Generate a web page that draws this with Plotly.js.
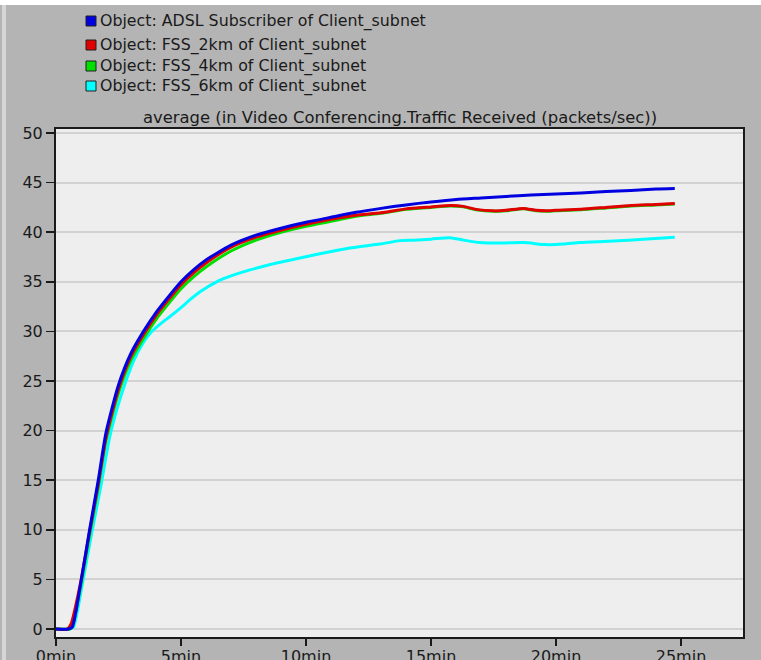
<!DOCTYPE html>
<html>
<head>
<meta charset="utf-8">
<script src="https://cdn.plot.ly/plotly-3.0.1.min.js"></script>
<style>
html,body{margin:0;padding:0;background:#b4b4b4;}
#chart{width:761px;height:660px;}
</style>
</head>
<body>
<div id="chart"></div>
<script>
// ---- data (time in minutes, traffic in packets/sec) ----
const seriesNames = [
  "Object: ADSL Subscriber of Client_subnet",
  "Object: FSS_2km of Client_subnet",
  "Object: FSS_4km of Client_subnet",
  "Object: FSS_6km of Client_subnet"
];
const seriesColors = ["#0000e0", "#e00000", "#00e000", "#00ffff"];

const adslT = [0,0.5,0.65,1.0,1.33,1.69,2.0,2.5,3.0,3.5,4.0,4.5,5.0,5.5,6.0,7,8,9,10,11,12,13,14,15,16,17,18,19,20,21,22,23,24,24.75];
const adslV = [0,0,0.2,4.8,9.8,15,19.8,24.6,27.8,30.0,31.9,33.5,35.0,36.2,37.2,38.7,39.7,40.4,41.0,41.5,42.0,42.4,42.75,43.05,43.3,43.45,43.6,43.75,43.85,43.95,44.1,44.2,44.35,44.4];

const fss2T = [0,0.45,0.6,1.0,1.33,1.69,2.0,2.5,3.0,3.5,4,4.5,5,5.5,6,7,8,9,10,11,12,13,14,15,15.8,16.3,16.8,17.5,18,18.7,19.2,19.6,20,21,22,23,24,24.75];
const fss2V = [0,0,0.5,4.9,9.6,14.6,19.3,24.2,27.5,29.7,31.6,33.2,34.7,35.9,36.9,38.5,39.5,40.2,40.8,41.3,41.7,41.95,42.35,42.55,42.7,42.6,42.3,42.15,42.2,42.4,42.2,42.15,42.2,42.3,42.5,42.7,42.8,42.9];

const fss4T = [0,0.55,0.65,1.0,1.33,1.69,2.0,2.5,3.0,3.5,4,4.5,5,5.5,6,7,8,9,10,11,12,13,14,15,15.8,16.3,16.8,17.5,18,18.7,19.2,19.6,20,21,22,23,24,24.75];
const fss4V = [0,0,0.2,4.5,9.3,14.3,19.0,23.8,27.1,29.3,31.2,32.8,34.3,35.5,36.5,38.1,39.2,40.0,40.6,41.1,41.6,41.9,42.3,42.5,42.65,42.55,42.25,42.1,42.15,42.35,42.15,42.1,42.15,42.25,42.45,42.65,42.75,42.85];

const fss6T = [0,0.55,0.7,1.05,1.4,1.8,2.16,2.6,3.1,3.5,3.76,4.2,4.56,5,5.36,5.76,6.5,7,7.76,8.5,9.76,10.5,11.76,12.96,13.76,14.3,15,15.76,16.3,16.96,17.5,18.7,19.6,20.3,20.96,22.3,23.5,24.75];
const fss6V = [0,0,0.2,4.5,9.3,14.5,19.5,23.5,27.0,28.9,29.8,30.8,31.5,32.4,33.2,34.0,35.1,35.6,36.2,36.7,37.4,37.8,38.4,38.8,39.15,39.2,39.3,39.45,39.2,38.95,38.9,38.95,38.75,38.8,38.95,39.1,39.3,39.5];

const xTickVals = [0,5,10,15,20,25];
const xTickText = ["0min","5min","10min","15min","20min","25min"];
const yTickVals = [0,5,10,15,20,25,30,35,40,45,50];
const chartTitle = "average (in Video Conferencing.Traffic Received (packets/sec))";

// ---- traces (drawn cyan, green, red, blue so blue is on top) ----
const allT = [adslT, fss2T, fss4T, fss6T];
const allV = [adslV, fss2V, fss4V, fss6V];
const order = [3,2,1,0];
const traces = order.map(i => ({
  type: "scatter", mode: "lines",
  x: allT[i], y: allV[i], name: seriesNames[i],
  line: {color: seriesColors[i], width: 3, shape: "spline", smoothing: 0.6},
  showlegend: false, hoverinfo: "skip"
}));

// ---- pixel helpers for legend placement (plot area: x 56..743, y 129..637) ----
const L = 56, R = 743, T = 129, B = 637;
const px = x => (x - L) / (R - L);
const py = y => (B - y) / (B - T);

const legFont = {family: "DejaVu Sans, Verdana, sans-serif", size: 15.8, color: "#1a1a1a"};
const titleFont = {family: "DejaVu Sans, Verdana, sans-serif", size: 16.4, color: "#1a1a1a"};
const legendRows = [21, 45, 66, 86];
const shapes = [];
const annotations = [];
seriesNames.forEach((n, i) => {
  const yc = legendRows[i];
  shapes.push({type: "rect", xref: "paper", yref: "paper",
    x0: px(86), x1: px(96), y0: py(yc + 5), y1: py(yc - 5),
    fillcolor: seriesColors[i], line: {color: "#202020", width: 1}});
  annotations.push({xref: "paper", yref: "paper", x: px(98), y: py(yc),
    xanchor: "left", yanchor: "middle", showarrow: false, text: n, font: legFont});
});
annotations.push({xref: "paper", yref: "paper", x: px(400), y: py(117),
  xanchor: "center", yanchor: "middle", showarrow: false, text: chartTitle, font: titleFont});
// window frame accents
shapes.push({type: "rect", xref: "paper", yref: "paper", x0: px(0), x1: px(761), y0: py(0), y1: py(5),
  fillcolor: "#ffffff", line: {width: 0}, layer: "below"});
shapes.push({type: "rect", xref: "paper", yref: "paper", x0: px(2), x1: px(6), y0: py(660), y1: py(5),
  fillcolor: "#d6d6d6", line: {width: 0}, layer: "below"});

const axisFont = {family: "DejaVu Sans, Verdana, sans-serif", size: 16, color: "#1a1a1a"};

const layout = {
  width: 761, height: 660,
  margin: {l: L, r: 761 - R, t: T, b: 660 - B, pad: 0},
  paper_bgcolor: "#b4b4b4",
  plot_bgcolor: "#eeeeee",
  showlegend: false,
  xaxis: {
    range: [0, 27.48], tickvals: xTickVals, ticktext: xTickText,
    ticks: "outside", ticklen: 7, tickwidth: 1.5, tickcolor: "#1a1a1a",
    ticklabelstandoff: -3,
    showgrid: false, zeroline: false,
    showline: true, linecolor: "#1a1a1a", linewidth: 2, mirror: true,
    tickfont: axisFont, fixedrange: true
  },
  yaxis: {
    range: [-0.8, 50.4], tickvals: yTickVals,
    ticks: "outside", ticklen: 8, tickwidth: 1.5, tickcolor: "#1a1a1a",
    showgrid: true, gridcolor: "#d2d2d2", gridwidth: 2, zeroline: false,
    showline: true, linecolor: "#1a1a1a", linewidth: 2, mirror: true,
    tickfont: axisFont, fixedrange: true
  },
  shapes: shapes,
  annotations: annotations
};

Plotly.newPlot("chart", traces, layout, {staticPlot: true, displayModeBar: false});
</script>
</body>
</html>
